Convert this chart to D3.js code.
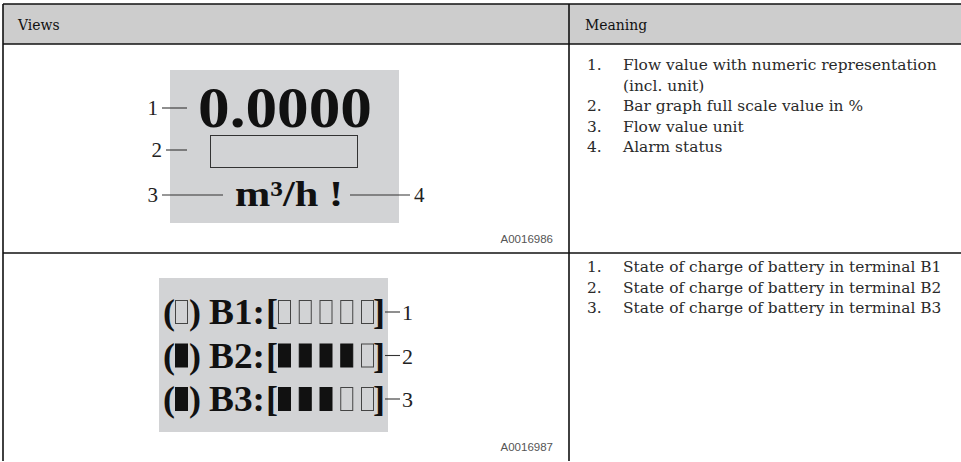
<!DOCTYPE html>
<html><head><meta charset="utf-8">
<script src="https://cdn.jsdelivr.net/npm/d3@7"></script>
<style>html,body{margin:0;padding:0;background:#fff;} svg{display:block;}</style>
</head><body><svg id="c" width="961" height="462"></svg>
<script>
// ---------- data ----------
const headers = ["Views", "Meaning"];
const figureIds = ["A0016986", "A0016987"];
const flowValue = "0.0000";
const flowUnit = "m³/h !";
const flowCallouts = ["1", "2", "3", "4"];
const flowNumbers = ["1.", "2.", "3.", "4."];
const flowMeanings = [
  ["Flow value with numeric representation", "(incl. unit)"],
  ["Bar graph full scale value in %"],
  ["Flow value unit"],
  ["Alarm status"]
];
const batteryTerminals = ["B1", "B2", "B3"];
const batteryLevels = [0, 4, 3];          // filled segments out of 5
const batteryIconFilled = [false, true, true];
const batterySegments = [1, 2, 3, 4, 5];
const batteryCallouts = ["1", "2", "3"];
const batteryNumbers = ["1.", "2.", "3."];
const batteryMeanings = [
  "State of charge of battery in terminal B1",
  "State of charge of battery in terminal B2",
  "State of charge of battery in terminal B3"
];

// ---------- layout ----------
const svg = d3.select("#c");
const W = 961, H = 462;
const x0 = 3, xDiv = 569, yTop = 4, yHead = 44, yRow = 253, yBot = 461;
const serifBody = "'DejaVu Serif', serif";
const serifDisp = "'Liberation Serif', 'Times New Roman', serif";
const txtCol = "#2a2a2a";

// header background
svg.append("rect").attr("x", x0).attr("y", yTop).attr("width", W - x0).attr("height", yHead - yTop).attr("fill", "#cdcdcd");

// header texts
const headX = d3.scaleOrdinal().domain(headers).range([18, 585]);
svg.selectAll("text.head").data(headers).join("text")
  .attr("class", "head")
  .attr("x", d => headX(d)).attr("y", 30)
  .attr("font-family", "'DejaVu Serif Condensed', 'DejaVu Serif', serif")
  .attr("font-size", 15.5).attr("fill", "#111")
  .text(d => d);

// table lines
const lines = [
  [x0, yTop, W, yTop], [x0, yHead, W, yHead], [x0, yRow, W, yRow],
  [x0, yTop, x0, yBot], [xDiv, yTop, xDiv, yBot]
];
svg.selectAll("line.grid").data(lines).join("line")
  .attr("x1", d => d[0]).attr("y1", d => d[1]).attr("x2", d => d[2]).attr("y2", d => d[3])
  .attr("stroke", "#111").attr("stroke-width", 1.6);

// ---------- meaning lists ----------
const numX = 587, txtX = 623, lineH = 20.5;
const probe = svg.append("text").attr("font-family", serifBody).attr("font-size", 14).text(flowMeanings[0][0]);
const bodySize = 14 * 314 / probe.node().getComputedTextLength();
probe.remove();

function list(numbers, items, y0) {
  let y = y0;
  const g = svg.append("g");
  numbers.forEach((n, i) => {
    g.append("text").attr("x", numX).attr("y", y).text(n);
    const arr = Array.isArray(items[i]) ? items[i] : [items[i]];
    arr.forEach((t, j) => {
      g.append("text").attr("x", txtX).attr("y", y + j * lineH).text(t);
    });
    y += arr.length * lineH;
  });
  g.selectAll("text").attr("font-family", serifBody).attr("font-size", bodySize).attr("fill", txtCol);
}
list(flowNumbers, flowMeanings, 70);
list(batteryNumbers, batteryMeanings, 272);

// figure ids
const idY = d3.scaleOrdinal().domain(figureIds).range([243, 451]);
svg.selectAll("text.fid").data(figureIds).join("text")
  .attr("class", "fid").attr("x", 553).attr("y", d => idY(d))
  .attr("text-anchor", "end").attr("font-family", "'Liberation Sans', Arial, sans-serif")
  .attr("font-size", 11.5).attr("fill", "#555").text(d => d);

// ---------- display 1: flow ----------
const d1 = svg.append("g");
d1.append("rect").attr("x", 170).attr("y", 70).attr("width", 229).attr("height", 153).attr("fill", "#d2d3d5");
d1.append("text").attr("x", 198).attr("y", 127).attr("font-family", serifDisp).attr("font-weight", "bold")
  .attr("font-size", 57).attr("textLength", 174).attr("lengthAdjust", "spacingAndGlyphs").attr("fill", "#111").text(flowValue);
d1.append("rect").attr("x", 210.5).attr("y", 135.5).attr("width", 147).attr("height", 32)
  .attr("fill", "none").attr("stroke", "#333").attr("stroke-width", 1);
d1.append("text").attr("x", 235).attr("y", 206).attr("font-family", serifDisp).attr("font-weight", "bold")
  .attr("font-size", 35).attr("textLength", 108).attr("lengthAdjust", "spacingAndGlyphs").attr("fill", "#111").text(flowUnit);

const flowLeaders = [
  {label: flowCallouts[0], x1: 162, x2: 187, y: 108, side: "l"},
  {label: flowCallouts[1], x1: 166, x2: 187, y: 150, side: "l"},
  {label: flowCallouts[2], x1: 162, x2: 223, y: 195, side: "l"},
  {label: flowCallouts[3], x1: 350, x2: 410, y: 195, side: "r"}
];
d1.selectAll("line.ld").data(flowLeaders).join("line")
  .attr("x1", d => d.x1).attr("x2", d => d.x2).attr("y1", d => d.y).attr("y2", d => d.y)
  .attr("stroke", "#333").attr("stroke-width", 1.1);
d1.selectAll("text.cl").data(flowLeaders).join("text")
  .attr("x", d => d.side === "l" ? d.x1 - 4 : d.x2 + 4).attr("y", d => d.y + 7)
  .attr("text-anchor", d => d.side === "l" ? "end" : "start")
  .attr("font-family", serifDisp).attr("font-size", 21).attr("fill", "#222").text(d => d.label);

// ---------- display 2: battery ----------
const d2 = svg.append("g");
d2.append("rect").attr("x", 159).attr("y", 278).attr("width", 229).attr("height", 154).attr("fill", "#d2d3d5");
const rowY = d3.scalePoint().domain(batteryTerminals).range([324, 411]);
const segX = d3.scalePoint().domain(batterySegments).range([278, 361]);
const segW = 12, capH = 24;
const fontB = 36;

const rows = d2.selectAll("g.row").data(batteryTerminals.map((t, i) => ({
  t, level: batteryLevels[i], icon: batteryIconFilled[i], call: batteryCallouts[i]
}))).join("g").attr("class", "row").attr("transform", d => `translate(0,${rowY(d.t)})`);

function bt(sel, x, str, len) {
  const t = sel.append("text").attr("x", x).attr("y", 0).attr("font-family", serifDisp)
    .attr("font-weight", "bold").attr("font-size", fontB).attr("fill", "#111").text(str);
  if (len) t.attr("textLength", len).attr("lengthAdjust", "spacingAndGlyphs");
  return t;
}
rows.each(function(d) {
  const g = d3.select(this);
  bt(g, 163, "(");
  g.append("rect").attr("x", 175.5).attr("y", -capH + 0.5).attr("width", segW).attr("height", capH - 1)
    .attr("fill", d.icon ? "#111" : "none").attr("stroke", d.icon ? "#111" : "#444").attr("stroke-width", 1);
  bt(g, 189, ")");
  bt(g, 209, d.t + ":", 56);
  bt(g, 266, "[");
  g.selectAll("rect.seg").data(batterySegments).join("rect").attr("class", "seg")
    .attr("x", s => segX(s) + 0.5).attr("y", -capH + 0.5).attr("width", segW).attr("height", capH - 1)
    .attr("fill", s => s <= d.level ? "#111" : "none")
    .attr("stroke", s => s <= d.level ? "#111" : "#444").attr("stroke-width", 1);
  bt(g, 373, "]");
  g.append("line").attr("x1", 385).attr("x2", 400).attr("y1", -12).attr("y2", -12).attr("stroke", "#333").attr("stroke-width", 1.1);
  g.append("text").attr("x", 402).attr("y", -4).attr("font-family", serifDisp).attr("font-size", 22)
    .attr("fill", "#222").text(d.call);
});
</script></body></html>
